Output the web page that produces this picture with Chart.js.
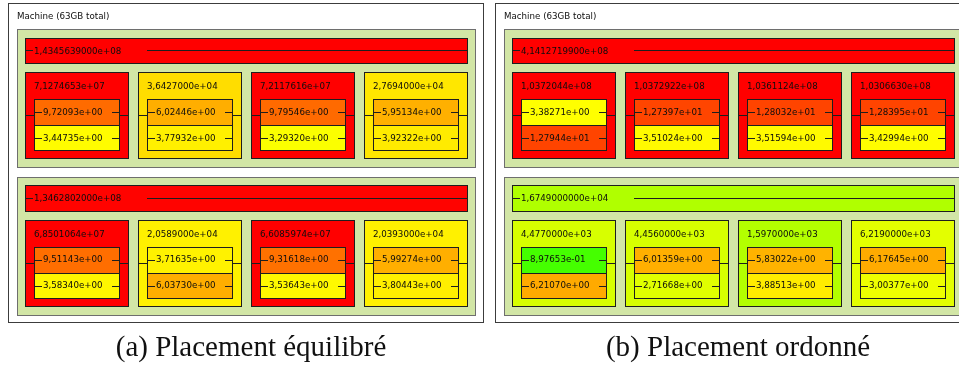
<!DOCTYPE html>
<html>
<head>
<meta charset="utf-8">
<script src="https://cdn.jsdelivr.net/npm/chart.js@4/dist/chart.umd.min.js"></script>
<style>
html,body{margin:0;padding:0;background:#fff;}
canvas{display:block;}
</style>
</head>
<body>
<canvas id="c" width="959" height="365"></canvas>
<script>
// ---------------- DATA ----------------
const panelTitles = ['(a) Placement équilibré', '(b) Placement ordonné'];
const machineLabels = ['Machine (63GB total)', 'Machine (63GB total)'];

// L3 level value per socket
const l3A = [1.4345639000e8, 1.3462802000e8];
const l3B = [4.1412719900e8, 1.6749000000e4];

// NUMA level values per socket (4 each)
const numaA = [
  [7.1274653e7, 3.6427000e4, 7.2117616e7, 2.7694000e4],
  [6.8501064e7, 2.0589000e4, 6.6085974e7, 2.0393000e4]
];
const numaB = [
  [1.0372044e8, 1.0372922e8, 1.0361124e8, 1.0306630e8],
  [4.4770000e3, 4.4560000e3, 1.5970000e3, 6.2190000e3]
];

// PU level values per NUMA node (2 each)
const puA = [
  [[9.72093, 3.44735], [6.02446, 3.77932], [9.79546, 3.29320], [5.95134, 3.92322]],
  [[9.51143, 3.58340], [3.71635, 6.03730], [9.31618, 3.53643], [5.99274, 3.80443]]
];
const puB = [
  [[3.38271, 12.7944], [12.7397, 3.51024], [12.8032, 3.51594], [12.8395, 3.42994]],
  [[0.897653, 6.21070], [6.01359, 2.71668], [5.83022, 3.88513], [6.17645, 3.00377]]
];

const panels = [
  {title: panelTitles[0], machine: machineLabels[0], l3: l3A, numa: numaA, pu: puA},
  {title: panelTitles[1], machine: machineLabels[1], l3: l3B, numa: numaB, pu: puB}
];

// ---------------- HELPERS ----------------
function fmt(v, d) {
  const s = v.toExponential(d);
  const parts = s.split('e');
  let ex = parts[1];
  const sign = ex[0];
  ex = ex.slice(1);
  if (ex.length < 2) ex = '0' + ex;
  return parts[0].replace('.', ',') + 'e' + sign + ex;
}
function clamp(h) { return Math.max(0, Math.min(120, h)); }
function heat(h) { return 'hsl(' + h.toFixed(1) + ',100%,50%)'; }
const colorL3 = v => heat(clamp(20 * (8.16 - Math.log10(v))));
const colorNuma = v => heat(clamp(19 * (7.3 - Math.log10(v))));
const colorPU = v => heat(clamp(60 - 76 * (Math.log10(v) - 0.53)));

// layout constants (in chart units, mapped through scales)
const G = {
  panelLeft: [8, 495], panelW: 476, top: 3, bottom: 323,
  socketTop: 29, socketH: 139, socketStep: 147.6, socketInset: 9,
  l3Off: 8.7, l3H: 26.3, numaOff: 43, numaH: 87, numaW: 104, numaGap: 9,
  puInset: 9, puW: 86, puTop: 27, puH: 26,
  captionY: 357, captionShift: 5
};

const topoPlugin = {
  id: 'topo',
  afterDatasetsDraw(chart) {
    const ctx = chart.ctx;
    const xs = chart.scales.x, ys = chart.scales.y;
    const X = v => Math.round(xs.getPixelForValue(v));
    const Y = v => Math.round(ys.getPixelForValue(v));
    const line = (x0, y0, x1, y1, col) => {
      ctx.strokeStyle = col || '#1e1e1e';
      ctx.lineWidth = 1;
      ctx.beginPath();
      ctx.moveTo(X(x0), Y(y0) + 0.5);
      ctx.lineTo(X(x1), Y(y1) + 0.5);
      ctx.stroke();
    };
    const box = (x0, y0, x1, y1, fill, stroke, lw) => {
      const a = X(x0), b = Y(y0), c = X(x1), d = Y(y1);
      ctx.fillStyle = fill;
      ctx.fillRect(a, b, c - a, d - b);
      ctx.strokeStyle = stroke;
      ctx.lineWidth = lw || 1;
      ctx.strokeRect(a + 0.5, b + 0.5, c - a - 1, d - b - 1);
    };
    const text = (s, x, y, font, align, col) => {
      ctx.fillStyle = col || '#0d0d0d';
      ctx.font = font;
      ctx.textAlign = align || 'left';
      ctx.textBaseline = 'middle';
      ctx.fillText(s, xs.getPixelForValue(x), ys.getPixelForValue(y));
    };
    const small = '8.7px "DejaVu Sans"';

    panels.forEach((p, pi) => {
      const ox = G.panelLeft[pi];
      // machine box
      box(ox, G.top, ox + G.panelW, G.bottom, '#ffffff', '#3c3c3c');
      text(p.machine, ox + 9, 17, small);
      for (let s = 0; s < 2; s++) {
        const sy = G.socketTop + s * G.socketStep;
        const sx0 = ox + G.socketInset, sx1 = ox + G.panelW - 8;
        box(sx0, sy, sx1, sy + G.socketH, '#d2e6a6', '#6e6e6e');
        // L3 bar
        const lx0 = sx0 + 8, lx1 = sx1 - 8;
        const ly0 = sy + G.l3Off, ly1 = ly0 + G.l3H;
        const lv = p.l3[s];
        box(lx0, ly0, lx1, ly1, colorL3(lv), '#1e1e1e');
        const lmid = (ly0 + ly1) / 2;
        line(lx0, lmid - 0.5, lx0 + 8, lmid - 0.5);
        line(lx0 + 122, lmid - 0.5, lx1, lmid - 0.5);
        text(fmt(lv, 10), lx0 + 9, lmid + 0.5, small);
        // NUMA nodes
        for (let k = 0; k < 4; k++) {
          const nx0 = lx0 + k * (G.numaW + G.numaGap), nx1 = nx0 + G.numaW;
          const ny0 = sy + G.numaOff, ny1 = ny0 + G.numaH;
          const nv = p.numa[s][k];
          box(nx0, ny0, nx1, ny1, colorNuma(nv), '#1e1e1e');
          text(fmt(nv, 7), nx0 + 9, ny0 + 15, small);
          const px0 = nx0 + G.puInset, px1 = px0 + G.puW;
          // outer connectors at first PU row
          const cy = ny0 + G.puTop + 16;
          line(nx0, cy, px0, cy);
          line(px1, cy, nx1, cy);
          for (let u = 0; u < 2; u++) {
            const py0 = ny0 + G.puTop + u * G.puH, py1 = py0 + G.puH;
            const uv = p.pu[s][k][u];
            box(px0, py0, px1 + 0, py1 + (u === 0 ? 1 : 0), colorPU(uv), '#1e1e1e');
            const pm = (py0 + py1) / 2;
            line(px0, pm, px0 + 8, pm);
            line(px0 + 78, pm, px1, pm);
            text(fmt(uv, 5), px0 + 9, pm + 0.5, small);
          }
        }
      }
      // caption
      text(p.title, ox + G.panelW / 2 + G.captionShift, G.captionY - 9, '29px "Liberation Serif"', 'center', '#111');
    });
  }
};

new Chart(document.getElementById('c').getContext('2d'), {
  type: 'scatter',
  data: { datasets: [{ data: [], pointRadius: 0 }] },
  options: {
    responsive: false,
    animation: false,
    devicePixelRatio: 1,
    layout: { padding: 0 },
    plugins: { legend: { display: false }, tooltip: { enabled: false } },
    scales: {
      x: { type: 'linear', min: 0, max: 959, display: false },
      y: { type: 'linear', min: 0, max: 365, reverse: true, display: false }
    }
  },
  plugins: [topoPlugin]
});
</script>
</body>
</html>
